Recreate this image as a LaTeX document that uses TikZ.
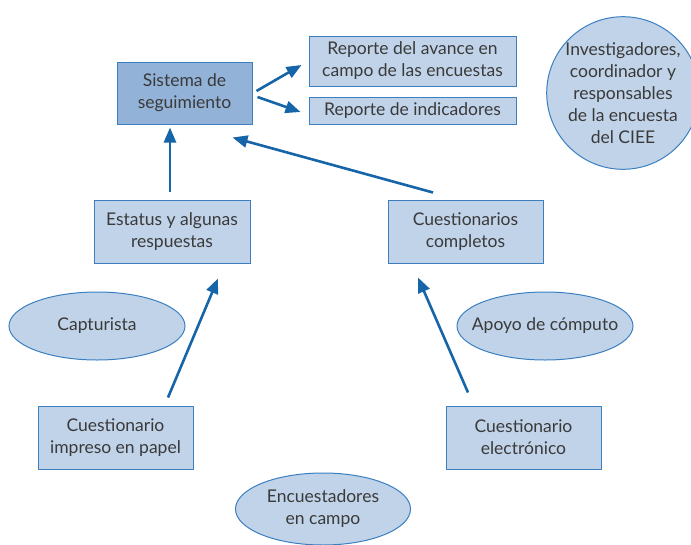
\documentclass[tikz,border=0pt]{standalone}
\usepackage{fontspec}
\setmainfont{Lato}
\usetikzlibrary{arrows.meta,shapes.geometric}
\definecolor{boxfill}{HTML}{C0D3E9}
\definecolor{darkfill}{HTML}{93B2D8}
\definecolor{edge}{HTML}{3B7FC0}
\definecolor{arr}{HTML}{1565A8}
\definecolor{txt}{HTML}{3A3A3A}
\tikzset{
  box/.style={draw=edge, line width=1pt, fill=boxfill, align=center, text=txt, inner sep=0pt, font=\fontsize{17.5}{22}\selectfont},
  oval/.style={ellipse, draw=edge, line width=1pt, fill=boxfill, align=center, text=txt, inner sep=0pt, font=\fontsize{17.5}{22}\selectfont},
  flow/.style={draw=arr, line width=2.6pt, -{Triangle[length=15pt,width=12pt]}}
}
\begin{document}
\begin{tikzpicture}[x=1pt,y=-1pt]
\useasboundingbox (0,0) rectangle (691,544);
\node[box, fill=darkfill, minimum width=135pt, minimum height=62pt] (sis) at (184.5,93) {Sistema de\\seguimiento};
\node[box, minimum width=207pt, minimum height=50pt] (repa) at (412.5,61) {Reporte del avance en\\campo de las encuestas};
\node[box, minimum width=207pt, minimum height=27pt] (repi) at (412.5,110.5) {Reporte de indicadores};
\node[circle, draw=edge, line width=1pt, fill=boxfill, align=center, text=txt, inner sep=0pt, minimum size=142pt, font=\fontsize{17.5}{22}\selectfont] (inv) at (623,93) {Investigadores,\\coordinador y\\responsables\\de la encuesta\\del CIEE};
\node[box, minimum width=156pt, minimum height=63pt] (est) at (172,231.5) {Estatus y algunas\\respuestas};
\node[box, minimum width=155pt, minimum height=63pt] (comp) at (465.5,231.5) {Cuestionarios\\completos};
\node[oval, minimum width=176pt, minimum height=68pt] (cap) at (97,326) {Capturista};
\node[oval, minimum width=176pt, minimum height=68pt] (apo) at (545,326) {\makebox[0pt]{Apoyo de cómputo}};
\node[box, minimum width=155pt, minimum height=63pt] (imp) at (115.5,437.5) {Cuestionario\\impreso en papel};
\node[box, minimum width=155pt, minimum height=63pt] (ele) at (523.5,437.5) {Cuestionario\\electrónico};
\node[oval, minimum width=175pt, minimum height=72pt] (enc) at (323,509) {Encuestadores\\en campo};

\draw[flow] ([xshift=-2pt,yshift=8pt]est.north) -- ([xshift=-14.5pt,yshift=-3pt]sis.south);
\draw[flow] ([xshift=-32.5pt,yshift=7pt]comp.north) -- ([xshift=-20pt,yshift=-13pt]sis.south east);
\draw[flow] ([xshift=4pt,yshift=2pt]sis.east) -- ([xshift=-7pt,yshift=-4pt]repa.west);
\draw[flow] ([xshift=5pt,yshift=-4pt]sis.east) -- ([xshift=-8pt,yshift=-1.5pt]repi.west);
\draw[flow] ([xshift=52.5pt,yshift=8pt]imp.north) -- ([xshift=46pt,yshift=-15pt]est.south);
\draw[flow] ([xshift=-55.5pt,yshift=13pt]ele.north) -- ([xshift=-47.5pt,yshift=-14pt]comp.south);
\end{tikzpicture}
\end{document}
